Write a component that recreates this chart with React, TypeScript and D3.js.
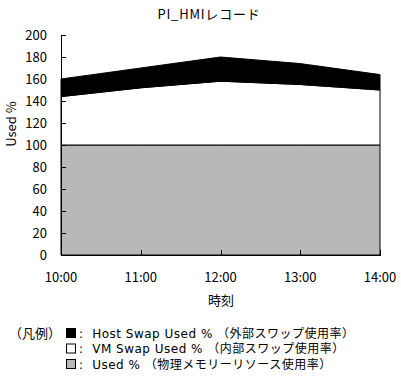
import React from "react";
import * as d3 from "d3";

const categories = ["10:00", "11:00", "12:00", "13:00", "14:00"];
const usedPct = [100, 100, 100, 100, 100];
const vmSwapPct = [44, 52, 58, 55, 50];
const hostSwapPct = [16, 18, 22, 19, 14];
const yTicks = [0, 20, 40, 60, 80, 100, 120, 140, 160, 180, 200];
const seriesKeys = ["used", "vm", "host"];
const seriesFill: Record<string, string> = { used: "#b8b8b8", vm: "#ffffff", host: "#000000" };
const legendItems = [
  { key: "host", label: ":  Host Swap Used % （外部スワップ使用率）" },
  { key: "vm", label: ":  VM Swap Used % （内部スワップ使用率）" },
  { key: "used", label: ":  Used % （物理メモリーリソース使用率）" },
];

const FONT = "'Noto Sans CJK JP', 'DejaVu Sans', sans-serif";
const LEGEND_FONT = "'DejaVu Sans', 'Noto Sans CJK JP', sans-serif";

export default function App() {
  const W = 401, H = 384;
  const x = d3.scalePoint<string>().domain(categories).range([61, 380]);
  const y = d3.scaleLinear().domain([0, 200]).range([255, 35]);
  const rows = categories.map((c, i) => ({ cat: c, used: usedPct[i], vm: vmSwapPct[i], host: hostSwapPct[i] }));
  const stacked = d3.stack<any>().keys(seriesKeys)(rows);
  const area = d3
    .area<any>()
    .x((d) => x(d.data.cat) as number)
    .y0((d) => y(d[0]))
    .y1((d) => y(d[1]));

  return (
    <svg width={W} height={H} style={{ position: "absolute", left: 0, top: 0, background: "#fff" }} fontFamily={FONT}>
      <rect width={W} height={H} fill="#fff" />
      <text x={209} y={19} textAnchor="middle" fontSize={13} letterSpacing={0.8}>PI_HMIレコード</text>
      {stacked.map((s) => (
        <path key={s.key} d={area(s) || ""} fill={seriesFill[s.key]} stroke="#000" strokeWidth={1} />
      ))}
      <line x1={61.5} x2={61.5} y1={35} y2={255.5} stroke="#000" />
      <line x1={61} x2={381} y1={255.5} y2={255.5} stroke="#000" />
      {yTicks.map((t) => (
        <g key={t}>
          <line x1={61} x2={66} y1={Math.round(y(t)) + 0.5} y2={Math.round(y(t)) + 0.5} stroke="#000" />
          <text x={47} y={y(t) + 5} textAnchor="end" fontSize={13}>{t}</text>
        </g>
      ))}
      {categories.map((c) => (
        <g key={c}>
          <line x1={Math.round(x(c) as number) + 0.5} x2={Math.round(x(c) as number) + 0.5} y1={255} y2={250} stroke="#000" />
          <text x={x(c) as number} y={282} textAnchor="middle" fontSize={13}>{c}</text>
        </g>
      ))}
      <text x={221} y={305} textAnchor="middle" fontSize={13}>時刻</text>
      <text transform="translate(16,124) rotate(-90)" textAnchor="middle" fontSize={13}>Used %</text>
      <text x={9} y={338} fontSize={13}>（凡例）</text>
      {legendItems.map((it, i) => {
        const cy = 333 + i * 15.5;
        return (
          <g key={it.key}>
            <rect x={66.5} y={cy - 4.5} width={9} height={9} fill={seriesFill[it.key]} stroke="#000" />
            <text x={79} y={cy + 4.5} fontSize={12} fontFamily={LEGEND_FONT} letterSpacing={0.5} style={{ whiteSpace: "pre" }}>{it.label}</text>
          </g>
        );
      })}
    </svg>
  );
}
